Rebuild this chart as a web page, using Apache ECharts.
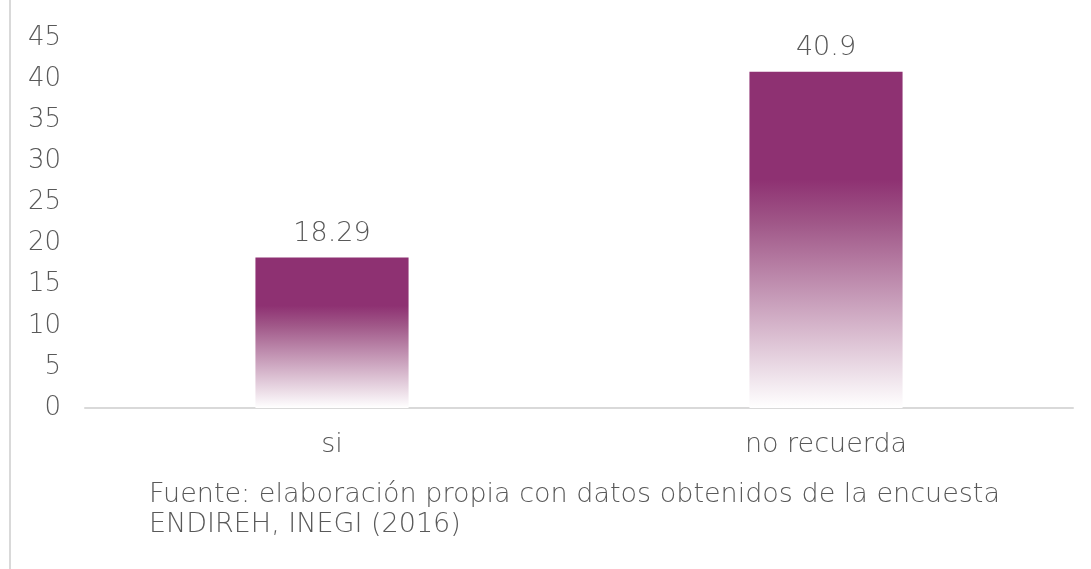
<!DOCTYPE html>
<html>
<head>
<meta charset="utf-8">
<script src="https://cdn.jsdelivr.net/npm/echarts@6/dist/echarts.min.js"></script>
<style>
  html, body { margin: 0; padding: 0; background: #fff; }
  #chart { width: 1091px; height: 569px; }
</style>
</head>
<body>
<div id="chart"></div>
<script>
// datos
var categorias = ['si', 'no recuerda']
var valores = [18.29, 40.9]
var fuente = ['Fuente: elaboración propia con datos obtenidos de la encuesta', 'ENDIREH, INEGI (2016)']

var fontFam = '"DejaVu Sans", sans-serif'
var gris = '#595959'

var mycharts = echarts.init(document.getElementById('chart'))
mycharts.setOption({
  animation: false,
  title: {
    text: fuente.join('\n'),
    left: 144,
    top: 475,
    textStyle: {
      color: gris,
      fontFamily: fontFam,
      fontWeight: 300,
      fontSize: 27,
      lineHeight: 30
    }
  },
  graphic: [
    {
      type: 'line',
      shape: { x1: 10, y1: 0, x2: 10, y2: 569 },
      style: { stroke: '#d9d9d9', lineWidth: 2 }
    }
  ],
  grid: {
    left: 85,
    right: 18,
    top: 38,
    bottom: 161
  },
  xAxis: {
    type: 'category',
    data: categorias,
    axisLine: { lineStyle: { color: '#d9d9d9', width: 2 } },
    axisTick: { show: false },
    axisLabel: {
      color: gris,
      fontFamily: fontFam,
      fontWeight: 300,
      fontSize: 27,
      margin: 23
    }
  },
  yAxis: {
    type: 'value',
    min: 0,
    max: 45,
    interval: 5,
    splitLine: { show: false },
    axisLine: { show: false },
    axisTick: { show: false },
    axisLabel: {
      color: gris,
      fontFamily: fontFam,
      fontWeight: 300,
      fontSize: 26,
      margin: 24
    }
  },
  series: [
    {
      type: 'bar',
      data: valores,
      barWidth: '31%',
      itemStyle: {
        color: new echarts.graphic.LinearGradient(0, 0, 0, 1, [
          { offset: 0, color: '#8e3172' },
          { offset: 0.32, color: '#8e3172' },
          { offset: 0.45, color: '#a05788' },
          { offset: 1, color: '#ffffff' }
        ])
      },
      label: {
        show: true,
        position: 'top',
        distance: 10,
        color: gris,
        fontFamily: fontFam,
        fontWeight: 300,
        fontSize: 27
      }
    }
  ]
})
</script>
</body>
</html>
